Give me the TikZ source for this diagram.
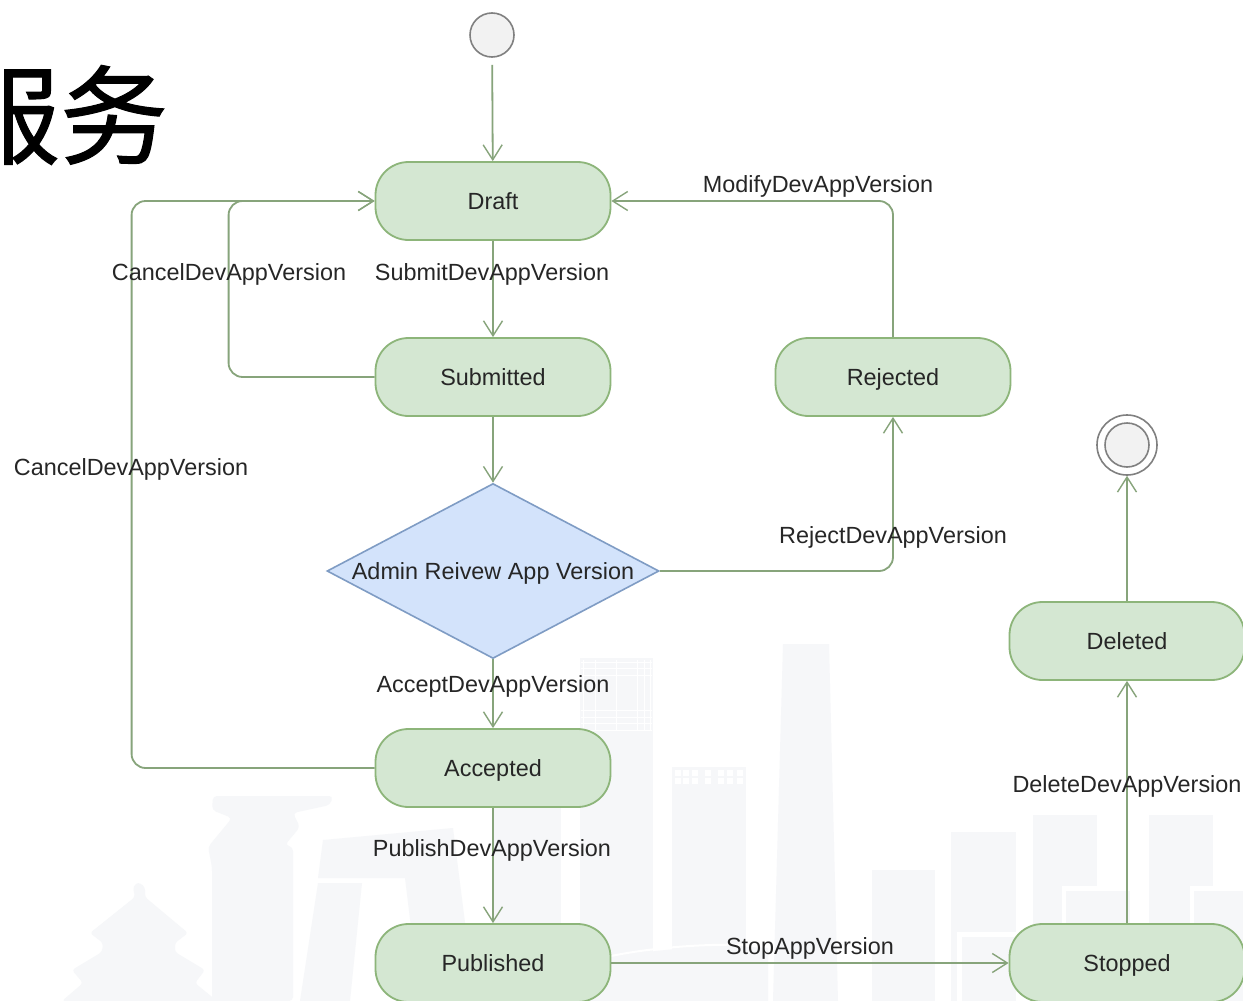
\documentclass[tikz,border=0pt]{standalone}
\usepackage{fontspec}
\setmainfont{Liberation Sans}
\newfontfamily\cjkfont[FakeBold=1]{Noto Sans CJK SC}
\usetikzlibrary{arrows.meta,shapes.geometric}
\definecolor{stategreen}{HTML}{D4E7D2}
\definecolor{stateline}{HTML}{8DB57A}
\definecolor{flowline}{HTML}{87A47B}
\definecolor{choiceblue}{HTML}{D3E3FB}
\definecolor{choiceline}{HTML}{7F9CC4}
\definecolor{skyline}{HTML}{F6F7F9}
\begin{document}
\begin{tikzpicture}[x=1pt,y=-1pt,
state/.style={rectangle, rounded corners=33pt, draw=stateline, fill=stategreen, line width=1.8pt,
 minimum width=235pt, minimum height=78pt, font=\fontsize{23.4}{26}\selectfont, text=black!85,
 text height=17pt, text depth=0pt},
choice/.style={diamond, draw=choiceline, fill=choiceblue, line width=1.6pt, inner sep=0pt, aspect=1.9,
 minimum width=332pt, minimum height=175pt, font=\fontsize{23.4}{26}\selectfont, text=black!85,
 text height=17pt, text depth=0pt},
endpoint/.style={circle, draw=black!50, fill=black!5, line width=1.6pt, inner sep=0pt},
flow/.style={draw=flowline, line width=1.8pt, rounded corners=14pt,
 -{Straight Barb[length=15pt,width=19pt,line width=1.4pt]}},
edgelabel/.style={font=\fontsize{23.4}{26}\selectfont, text=black!85, inner sep=0pt,
 text height=17pt, text depth=1pt}
]
\useasboundingbox (0,0) rectangle (1243,1001);
\fill[white] (0,0) rectangle (1243,1001);

% skyline behind the chart
\foreach \Left/\Top/\Right in {580/658/653,672/767/746,492/808/561,872/870/935,951/832/1016,1033/815/1097,1149/815/1213}
 \fill[skyline] (\Left,\Top) rectangle (\Right,1001);
\fill[skyline] (783,644) -- (829,644) -- (838,1001) -- (773,1001) -- cycle;
\fill[skyline] (611,958) .. controls (650,950) and (710,944) .. (768,948) -- (768,1001) -- (611,1001) -- cycle;
\draw[white, line width=2pt] (611,956) .. controls (650,948) and (710,942) .. (768,946);
\fill[skyline, rounded corners=4pt] (213,796) -- (333,796) -- (330,805) -- (293,813) -- (300,827) -- (285,845) -- (293,847)
 -- (293,1001) -- (212,1001) -- (212,867) -- (208,847) -- (232,818) -- (212,810) -- cycle;
\fill[skyline] (323,840) -- (453,828) -- (475,1001) -- (420,1001) -- (405,878) -- (318,878) -- cycle;
\fill[skyline] (318,883) -- (362,883) -- (350,1001) -- (300,1001) -- cycle;
\fill[skyline, rounded corners=3pt] (138,882) -- (145,887) -- (145,897) -- (188,933) -- (175,943) -- (175,952) -- (205,970)
 -- (195,983) -- (217,1001) -- (62,1001) -- (83,983) -- (72,970) -- (102,952) -- (103,943) -- (90,933) -- (135,897) -- (133,887) -- cycle;
% window grids
\foreach \Col in {583,595,616,637,644,650}
 \draw[white, line width=1pt] (\Col,660) -- (\Col,730);
\foreach \Row in {662,668,675,710,717,723,730}
 \draw[white, line width=1pt] (581,\Row) -- (652,\Row);
\foreach \Col in {675,683,692,705,718,727,737}
 \foreach \Row in {770,778}
 \fill[white] (\Col,\Row) rectangle ++(6,6);
% framed blocks on the right
\foreach \Left/\Right in {1062/1130,1190/1243}
 {\fill[white] (\Left,886) rectangle (\Right,1001);
 \fill[skyline] (\Left+4,891) rectangle (\Right,1001);}
\fill[white] (957,932) rectangle (1016,1001);
\fill[skyline] (962,937) rectangle (1016,1001);

\node[font=\cjkfont\fontsize{108}{112}\selectfont, inner sep=0pt] (title) at (60,115) {服务};

\node[endpoint, minimum size=44pt] (start) at (492,35) {};
\node[state] (draft) at (493,201) {Draft};
\node[state] (submitted) at (493,377) {Submitted};
\node[state] (rejected) at (893,377) {Rejected};
\node[choice] (review) at (493,571) {Admin Reivew App Version};
\node[state] (accepted) at (493,768) {Accepted};
\node[state] (published) at (493,963) {Published};
\node[state] (stopped) at (1127,963) {Stopped};
\node[state] (deleted) at (1127,641) {Deleted};
\node[endpoint, minimum size=60pt, fill=white] (finish) at (1127,445) {};
\node[endpoint, minimum size=44pt] (finishin) at (1127,445) {};

\draw[flow, shorten <=7pt] (start) -- (draft);
\draw[flow] (draft) -- (submitted);
\draw[flow] (submitted) -- (review);
\draw[flow] (review) -- (accepted);
\draw[flow] (accepted) -- (published);
\draw[flow] (published) -- (stopped);
\draw[flow] (stopped) -- (deleted);
\draw[flow] (deleted) -- (finish);
\draw[flow] (submitted.west) -- ++(-146,0) |- (draft.west);
\draw[flow] (accepted.west) -- ++(-243,0) |- (draft.west);
\draw[flow] (rejected.north) |- (draft.east);
\draw[flow] (review.east) -| (rejected.south);

\node[edgelabel] (submitlabel) at (492,272) {SubmitDevAppVersion};
\node[edgelabel] (cancellabela) at (229,272) {CancelDevAppVersion};
\node[edgelabel] (cancellabelb) at (131,467) {CancelDevAppVersion};
\node[edgelabel] (modifylabel) at (818,184) {ModifyDevAppVersion};
\node[edgelabel] (rejectlabel) at (893,535) {RejectDevAppVersion};
\node[edgelabel] (acceptlabel) at (493,684) {AcceptDevAppVersion};
\node[edgelabel] (publishlabel) at (492,848) {PublishDevAppVersion};
\node[edgelabel] (stoplabel) at (810,946) {StopAppVersion};
\node[edgelabel] (deletelabel) at (1127,784) {DeleteDevAppVersion};
\end{tikzpicture}
\end{document}
